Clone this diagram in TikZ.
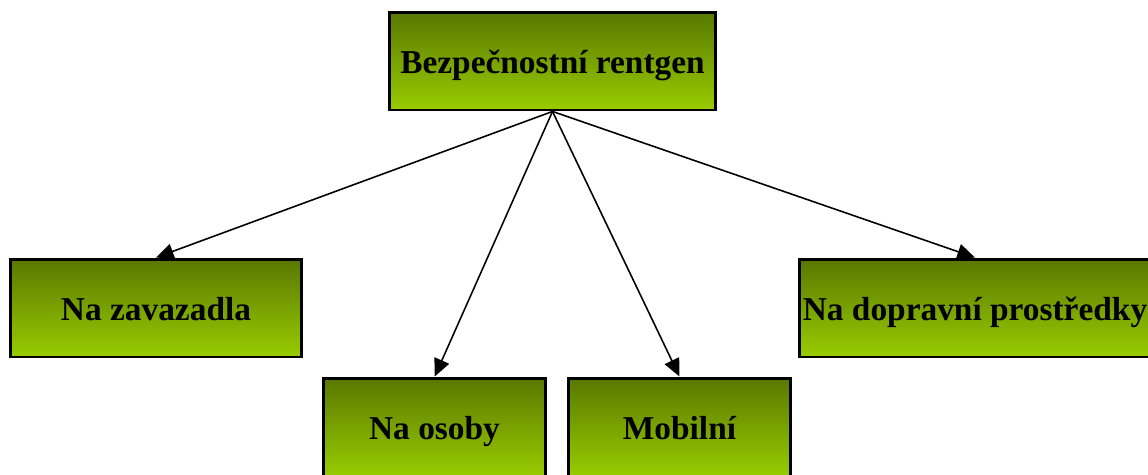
\documentclass[tikz,border=0pt]{standalone}
\usepackage{fontspec}
\setmainfont{Liberation Serif}
\usetikzlibrary{arrows.meta,calc}
\definecolor{gtop}{RGB}{88,120,0}
\definecolor{gbot}{RGB}{153,204,0}
\tikzset{
  px/.style={x=0.02cm,y=-0.02cm},
  box/.style={draw=black, line width=1.7pt, top color=gtop, bottom color=gbot,
    minimum height=1.96cm, inner sep=0pt, text height=16pt, text depth=2pt,
    font=\fontsize{19}{22}\selectfont\bfseries, text=black},
  conn/.style={-{Triangle[length=10pt,width=9pt]}, line width=0.9pt, black}
}
\begin{document}
\begin{tikzpicture}[px]
\useasboundingbox (0,0) rectangle (1148,474);
\begin{scope}
\clip (0,0) rectangle (1148,474);
\node[box, minimum width=6.54cm] (root) at (552.5,61) {Bezpečnostní rentgen};
\node[box, minimum width=5.84cm] (zav) at (156,308) {Na zavazadla};
\node[box, minimum width=7.04cm] (dop) at (975,308) {Na dopravní prostředky};
\node[box, minimum width=4.46cm] (oso) at (434.5,427) {Na osoby};
\node[box, minimum width=4.46cm] (mob) at (679.5,427) {Mobilní};
\coordinate (src) at ($(root.south)+(0,-0.04)$);
\draw[conn] (src) -- ($(zav.north)+(0.04,0)$);
\draw[conn] (src) -- ($(oso.north)+(0.18,0)$);
\draw[conn] (src) -- ($(mob.north)+(-0.04,0)$);
\draw[conn] (src) -- ($(dop.north)+(-0.1,0)$);
\end{scope}
\end{tikzpicture}
\end{document}
